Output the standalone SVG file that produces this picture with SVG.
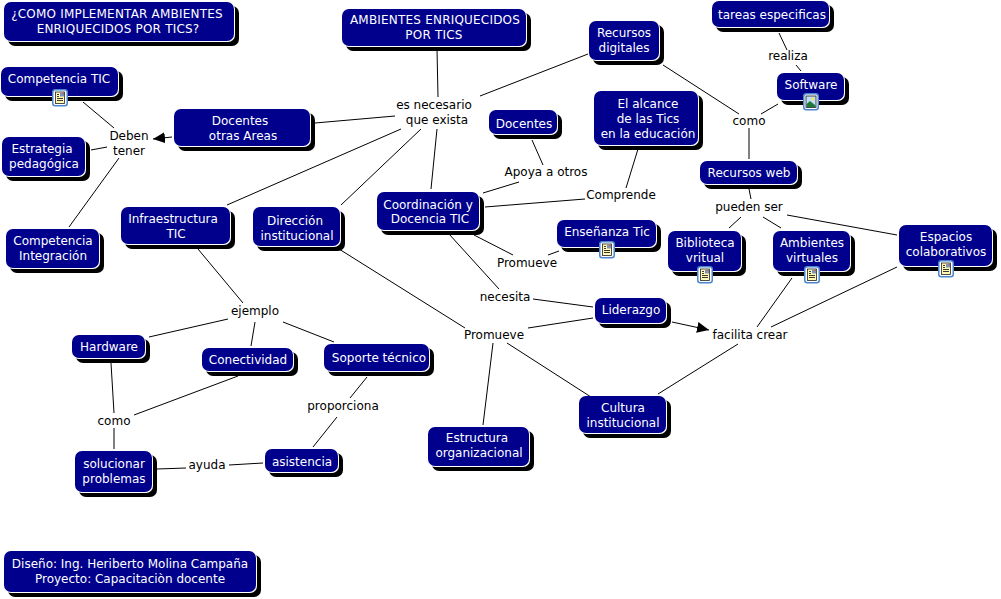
<svg xmlns="http://www.w3.org/2000/svg" xmlns:xlink="http://www.w3.org/1999/xlink" width="1001" height="599" viewBox="0 0 1001 599">
<style>
text{font-family:"DejaVu Sans",Verdana,sans-serif;font-size:12px;text-anchor:middle}
.n text{fill:#fff}
.l text{fill:#000}
.s{fill:#000}
.e{fill:#fff}
.b{fill:#00008c}
.caps{letter-spacing:.2px}
#c line{stroke:#000;stroke-width:1}
</style>
<defs>
<marker id="a" markerWidth="14" markerHeight="12" refX="12" refY="5.500" orient="auto" markerUnits="userSpaceOnUse"><path d="M0 0L12 5.500L0 11Z" fill="#000"/></marker>
<g id="doc"><rect x="0.750" y="0.750" width="14.500" height="16" rx="2.500" fill="#fff" stroke="#4a86cf" stroke-width="1.500"/><rect x="3.500" y="3" width="9" height="11.500" fill="#fff8b4" stroke="#222" stroke-width=".8"/><path d="M5 5.500h2M5 7.500h2M5 9.500h6M5 11.500h6" stroke="#222" stroke-width=".9"/><rect x="8" y="3.500" width="4" height="4" fill="#7f93b8"/><rect x="10.500" y="3.500" width="1.500" height="1.500" fill="#c85a50"/></g>
<g id="img"><rect x="0.750" y="0.750" width="14.500" height="16" rx="2.500" fill="#fff" stroke="#4a86cf" stroke-width="1.500"/><rect x="3" y="3" width="10" height="11.500" fill="#bfe0f5" stroke="#222" stroke-width=".8"/><path d="M3.500 14L3.500 11L7 8L12.500 12.500V14Z" fill="#1f7a3a"/><circle cx="9.800" cy="5.800" r="1.600" fill="#f4e468"/></g>
</defs>
<rect width="1001" height="599" fill="#fff"/>
<g id="c">
<line x1="83" y1="102" x2="114" y2="128"/>
<line x1="91" y1="150" x2="107" y2="147"/>
<line x1="69" y1="227" x2="119" y2="158"/>
<line x1="172" y1="137" x2="153" y2="139" marker-end="url(#a)"/>
<line x1="315" y1="123" x2="395" y2="116"/>
<line x1="227" y1="205" x2="401" y2="129"/>
<line x1="341" y1="205" x2="421" y2="129"/>
<line x1="437" y1="49" x2="438" y2="97"/>
<line x1="437" y1="129" x2="431" y2="189"/>
<line x1="480" y1="96" x2="588" y2="54"/>
<line x1="663" y1="65" x2="739" y2="114"/>
<line x1="761" y1="114" x2="778" y2="104"/>
<line x1="749" y1="128" x2="749" y2="159"/>
<line x1="779" y1="33" x2="787" y2="50"/>
<line x1="796" y1="65" x2="801" y2="71"/>
<line x1="532" y1="140" x2="543" y2="165"/>
<line x1="519" y1="182" x2="483" y2="193"/>
<line x1="638" y1="149" x2="626" y2="188"/>
<line x1="585" y1="199" x2="485" y2="207"/>
<line x1="474" y1="235" x2="513" y2="255"/>
<line x1="548" y1="255" x2="559" y2="251"/>
<line x1="449" y1="234" x2="499" y2="289"/>
<line x1="533" y1="299" x2="593" y2="307"/>
<line x1="528" y1="328" x2="593" y2="318"/>
<line x1="672" y1="322" x2="709" y2="330" marker-end="url(#a)"/>
<line x1="339" y1="249" x2="465" y2="328"/>
<line x1="493" y1="343" x2="483" y2="425"/>
<line x1="507" y1="343" x2="591" y2="397"/>
<line x1="757" y1="327" x2="792" y2="278"/>
<line x1="771" y1="327" x2="897" y2="267"/>
<line x1="658" y1="394" x2="738" y2="344"/>
<line x1="749" y1="189" x2="751" y2="199"/>
<line x1="729" y1="228" x2="741" y2="217"/>
<line x1="781" y1="228" x2="763" y2="217"/>
<line x1="787" y1="215" x2="897" y2="235"/>
<line x1="198" y1="249" x2="243" y2="303"/>
<line x1="228" y1="319" x2="149" y2="337"/>
<line x1="255" y1="322" x2="251" y2="346"/>
<line x1="283" y1="322" x2="334" y2="342"/>
<line x1="111" y1="363" x2="114" y2="413"/>
<line x1="114" y1="428" x2="114" y2="449"/>
<line x1="134" y1="415" x2="238" y2="376"/>
<line x1="367" y1="377" x2="350" y2="398"/>
<line x1="337" y1="417" x2="313" y2="447"/>
<line x1="157" y1="469" x2="186" y2="468"/>
<line x1="229" y1="465" x2="263" y2="463"/>
</g>
<g class="l">
<g id="l-deben"><text x="129" y="140">Deben</text><text x="129" y="155">tener</text></g>
<g id="l-necesario"><text x="434" y="109">es necesario</text><text x="437" y="124">que exista</text></g>
<g id="l-realiza"><text x="788" y="60">realiza</text></g>
<g id="l-como1"><text x="749" y="125">como</text></g>
<g id="l-apoya"><text x="546" y="176">Apoya a otros</text></g>
<g id="l-comprende"><text x="621" y="199">Comprende</text></g>
<g id="l-pueden"><text x="749" y="211">pueden ser</text></g>
<g id="l-promueve1"><text x="527" y="267">Promueve</text></g>
<g id="l-necesita"><text x="505" y="301">necesita</text></g>
<g id="l-promueve2"><text x="494" y="339">Promueve</text></g>
<g id="l-facilita"><text x="750" y="339">facilita crear</text></g>
<g id="l-ejemplo"><text x="255" y="315">ejemplo</text></g>
<g id="l-como2"><text x="114" y="425">como</text></g>
<g id="l-proporciona"><text x="343" y="410">proporciona</text></g>
<g id="l-ayuda"><text x="207" y="469">ayuda</text></g>
</g>
<g class="n">
<g id="n1"><rect class="s" x="8" y="6" width="231" height="40" rx="7"/><rect class="e" x="4" y="2" width="231" height="40" rx="7"/><rect class="b" x="4" y="2" width="230" height="39" rx="7"/><text class="caps" x="117" y="18">¿COMO IMPLEMENTAR AMBIENTES</text><text class="caps" x="118" y="33">ENRIQUECIDOS POR TICS?</text></g>
<g id="n2"><rect class="s" x="5" y="71" width="118" height="30" rx="7"/><rect class="e" x="1" y="67" width="118" height="30" rx="7"/><rect class="b" x="1" y="67" width="117" height="29" rx="7"/><text x="59" y="83">Competencia TIC</text><use xlink:href="#doc" href="#doc" x="52" y="89"/></g>
<g id="n3"><rect class="s" x="178" y="113" width="137" height="38" rx="7"/><rect class="e" x="174" y="109" width="137" height="38" rx="7"/><rect class="b" x="174" y="109" width="136" height="37" rx="7"/><text x="240" y="125">Docentes</text><text x="243" y="140">otras Areas</text></g>
<g id="n4"><rect class="s" x="6" y="141" width="84" height="40" rx="7"/><rect class="e" x="2" y="137" width="84" height="40" rx="7"/><rect class="b" x="2" y="137" width="83" height="39" rx="7"/><text x="42" y="153">Estrategia</text><text x="44" y="168">pedagógica</text></g>
<g id="n5"><rect class="s" x="10" y="233" width="94" height="40" rx="7"/><rect class="e" x="6" y="229" width="94" height="40" rx="7"/><rect class="b" x="6" y="229" width="93" height="39" rx="7"/><text x="53" y="245">Competencia</text><text x="53" y="260">Integración</text></g>
<g id="n6"><rect class="s" x="125" y="211" width="110" height="38" rx="7"/><rect class="e" x="121" y="207" width="110" height="38" rx="7"/><rect class="b" x="121" y="207" width="109" height="37" rx="7"/><text x="173" y="223">Infraestructura</text><text x="176" y="238">TIC</text></g>
<g id="n7"><rect class="s" x="257" y="211" width="88" height="40" rx="7"/><rect class="e" x="253" y="207" width="88" height="40" rx="7"/><rect class="b" x="253" y="207" width="87" height="39" rx="7"/><text x="295" y="225">Dirección</text><text x="297" y="240">institucional</text></g>
<g id="n8"><rect class="s" x="346" y="13" width="185" height="38" rx="7"/><rect class="e" x="342" y="9" width="185" height="38" rx="7"/><rect class="b" x="342" y="9" width="184" height="37" rx="7"/><text class="caps" x="435" y="24">AMBIENTES ENRIQUECIDOS</text><text class="caps" x="434" y="39">POR TICS</text></g>
<g id="n9"><rect class="s" x="593" y="25" width="71" height="40" rx="7"/><rect class="e" x="589" y="21" width="71" height="40" rx="7"/><rect class="b" x="589" y="21" width="70" height="39" rx="7"/><text x="624" y="37">Recursos</text><text x="624" y="52">digitales</text></g>
<g id="n10"><rect class="s" x="716" y="5" width="118" height="27" rx="7"/><rect class="e" x="712" y="1" width="118" height="27" rx="7"/><rect class="b" x="712" y="1" width="117" height="26" rx="7"/><text x="772" y="19">tareas especificas</text></g>
<g id="n11"><rect class="s" x="781" y="77" width="68" height="28" rx="7"/><rect class="e" x="777" y="73" width="68" height="28" rx="7"/><rect class="b" x="777" y="73" width="67" height="27" rx="7"/><text x="811" y="89">Software</text><use xlink:href="#img" href="#img" x="803" y="93"/></g>
<g id="n12"><rect class="s" x="598" y="95" width="105" height="55" rx="7"/><rect class="e" x="594" y="91" width="105" height="55" rx="7"/><rect class="b" x="594" y="91" width="104" height="54" rx="7"/><text x="648" y="108">El alcance</text><text x="648" y="123">de las Tics</text><text x="648" y="138">en la educación</text></g>
<g id="n13"><rect class="s" x="493" y="114" width="69" height="25" rx="7"/><rect class="e" x="489" y="110" width="69" height="25" rx="7"/><rect class="b" x="489" y="110" width="68" height="24" rx="7"/><text x="524" y="128">Docentes</text></g>
<g id="n14"><rect class="s" x="704" y="165" width="98" height="24" rx="7"/><rect class="e" x="700" y="161" width="98" height="24" rx="7"/><rect class="b" x="700" y="161" width="97" height="23" rx="7"/><text x="749" y="177">Recursos web</text></g>
<g id="n15"><rect class="s" x="381" y="196" width="103" height="39" rx="7"/><rect class="e" x="377" y="192" width="103" height="39" rx="7"/><rect class="b" x="377" y="192" width="102" height="38" rx="7"/><text x="428" y="209">Coordinación y</text><text x="430" y="223">Docencia TIC</text></g>
<g id="n16"><rect class="s" x="561" y="224" width="100" height="28" rx="7"/><rect class="e" x="557" y="220" width="100" height="28" rx="7"/><rect class="b" x="557" y="220" width="99" height="27" rx="7"/><text x="607" y="236">Enseñanza Tic</text><use xlink:href="#doc" href="#doc" x="599" y="241"/></g>
<g id="n17"><rect class="s" x="672" y="235" width="74" height="41" rx="7"/><rect class="e" x="668" y="231" width="74" height="41" rx="7"/><rect class="b" x="668" y="231" width="73" height="40" rx="7"/><text x="705" y="247">Biblioteca</text><text x="705" y="262">vritual</text><use xlink:href="#doc" href="#doc" x="697" y="266"/></g>
<g id="n18"><rect class="s" x="777" y="235" width="78" height="41" rx="7"/><rect class="e" x="773" y="231" width="78" height="41" rx="7"/><rect class="b" x="773" y="231" width="77" height="40" rx="7"/><text x="812" y="247">Ambientes</text><text x="812" y="262">virtuales</text><use xlink:href="#doc" href="#doc" x="804" y="266"/></g>
<g id="n19"><rect class="s" x="903" y="229" width="94" height="42" rx="7"/><rect class="e" x="899" y="225" width="94" height="42" rx="7"/><rect class="b" x="899" y="225" width="93" height="41" rx="7"/><text x="946" y="241">Espacios</text><text x="946" y="256">colaborativos</text><use xlink:href="#doc" href="#doc" x="938" y="260"/></g>
<g id="n20"><rect class="s" x="599" y="302" width="72" height="26" rx="7"/><rect class="e" x="595" y="298" width="72" height="26" rx="7"/><rect class="b" x="595" y="298" width="71" height="25" rx="7"/><text x="631" y="314">Liderazgo</text></g>
<g id="n21"><rect class="s" x="76" y="339" width="74" height="24" rx="7"/><rect class="e" x="72" y="335" width="74" height="24" rx="7"/><rect class="b" x="72" y="335" width="73" height="23" rx="7"/><text x="109" y="351">Hardware</text></g>
<g id="n22"><rect class="s" x="206" y="352" width="92" height="24" rx="7"/><rect class="e" x="202" y="348" width="92" height="24" rx="7"/><rect class="b" x="202" y="348" width="91" height="23" rx="7"/><text x="248" y="364">Conectividad</text></g>
<g id="n23"><rect class="s" x="328" y="348" width="106" height="28" rx="7"/><rect class="e" x="324" y="344" width="106" height="28" rx="7"/><rect class="b" x="324" y="344" width="105" height="27" rx="7"/><text x="379" y="362">Soporte técnico</text></g>
<g id="n24"><rect class="s" x="583" y="400" width="88" height="38" rx="7"/><rect class="e" x="579" y="396" width="88" height="38" rx="7"/><rect class="b" x="579" y="396" width="87" height="37" rx="7"/><text x="623" y="412">Cultura</text><text x="623" y="427">institucional</text></g>
<g id="n25"><rect class="s" x="432" y="431" width="102" height="40" rx="7"/><rect class="e" x="428" y="427" width="102" height="40" rx="7"/><rect class="b" x="428" y="427" width="101" height="39" rx="7"/><text x="477" y="442">Estructura</text><text x="479" y="457">organizacional</text></g>
<g id="n26"><rect class="s" x="79" y="455" width="78" height="42" rx="7"/><rect class="e" x="75" y="451" width="78" height="42" rx="7"/><rect class="b" x="75" y="451" width="77" height="41" rx="7"/><text x="114" y="468">solucionar</text><text x="114" y="483">problemas</text></g>
<g id="n27"><rect class="s" x="269" y="453" width="74" height="24" rx="7"/><rect class="e" x="265" y="449" width="74" height="24" rx="7"/><rect class="b" x="265" y="449" width="73" height="23" rx="7"/><text x="302" y="466">asistencia</text></g>
<g id="n28"><rect class="s" x="8" y="555" width="253" height="42" rx="7"/><rect class="e" x="4" y="551" width="253" height="42" rx="7"/><rect class="b" x="4" y="551" width="252" height="41" rx="7"/><text x="130" y="568">Diseño: Ing. Heriberto Molina Campaña</text><text x="130" y="583">Proyecto: Capacitaciòn docente</text></g>
</g>
</svg>
